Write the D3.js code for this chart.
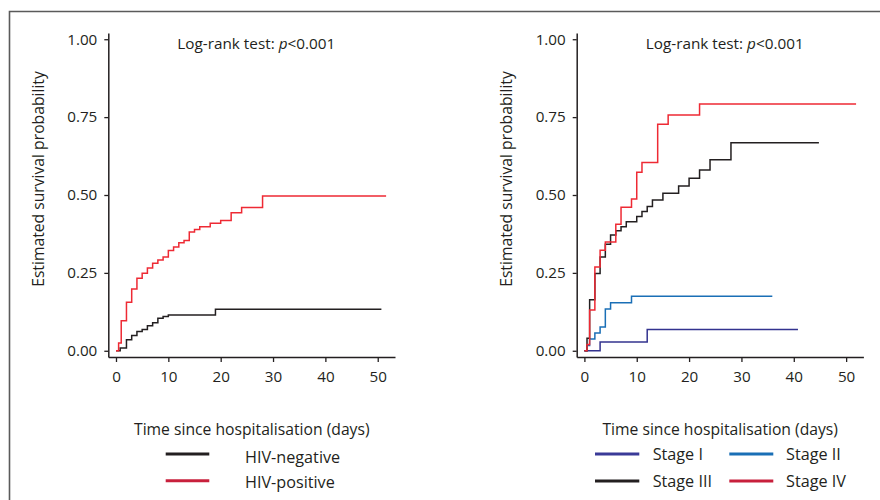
<!DOCTYPE html>
<html>
<head>
<meta charset="utf-8">
<script src="https://cdn.jsdelivr.net/npm/d3@7/dist/d3.min.js"></script>
<style>
  html, body { margin: 0; padding: 0; background: #fff; }
  svg { display: block; }
  text { font-family: "Open Sans", "Noto Sans", sans-serif; fill: #231f20; }
</style>
</head>
<body>
<svg id="chart" width="880" height="500"></svg>
<script>
// ---- Data ----
const yTicks = [0, 0.25, 0.5, 0.75, 1.0];
const xTicks = [0, 10, 20, 30, 40, 50];
const yTitle = "Estimated survival probability";
const xTitle = "Time since hospitalisation (days)";
const testLabel = "Log-rank test: ";
const testP = "p";
const testValue = "<0.001";

// Left panel: HIV status
const hivNegTime = [0, 0.8, 2, 3, 4, 5, 6, 7, 8, 9, 10, 19, 50.7];
const hivNegProb = [0, 0.009, 0.035, 0.049, 0.062, 0.068, 0.080, 0.090, 0.104, 0.110, 0.115, 0.133, 0.133];
const hivPosTime = [0, 0.5, 1, 2, 3, 4, 5, 6, 7, 8, 9, 10, 11, 12, 13, 14, 15, 16, 18, 20, 22, 24, 28, 51.6];
const hivPosProb = [0, 0.025, 0.096, 0.156, 0.198, 0.233, 0.249, 0.266, 0.281, 0.291, 0.301, 0.322, 0.333, 0.347, 0.354, 0.381, 0.389, 0.398, 0.409, 0.418, 0.443, 0.460, 0.497, 0.497];

// Right panel: stage
const stage1Time = [0, 3, 12, 40.8];
const stage1Prob = [0, 0.028, 0.068, 0.068];
const stage2Time = [0, 0.5, 1, 2, 3, 4, 5, 9, 35.9];
const stage2Prob = [0, 0.017, 0.038, 0.057, 0.076, 0.134, 0.154, 0.175, 0.175];
const stage3Time = [0, 0.5, 1, 2, 3, 4, 5, 6, 7, 8, 10, 11, 12, 13, 15, 18, 20, 22, 24, 28, 44.8];
const stage3Prob = [0, 0.040, 0.164, 0.248, 0.301, 0.342, 0.372, 0.385, 0.398, 0.414, 0.431, 0.447, 0.463, 0.484, 0.506, 0.529, 0.554, 0.580, 0.613, 0.668, 0.668];
const stage4Time = [0, 0.5, 1, 2, 3, 4, 6, 7, 9, 10, 11, 14, 16, 22, 51.9];
const stage4Prob = [0, 0.020, 0.131, 0.269, 0.323, 0.349, 0.406, 0.461, 0.487, 0.573, 0.604, 0.727, 0.757, 0.792, 0.792];

const leftNames = ["HIV-negative", "HIV-positive"];
const rightNames = ["Stage I", "Stage II", "Stage III", "Stage IV"];

// ---- Styles ----
const curveCol = { black: "#231f20", red: "#ee2a34", purple: "#33338f", blue: "#1a6fb6" };
const legendCol = { black: "#231f20", red: "#c8203c", purple: "#3a3a98", blue: "#1a6fb6" };

const svg = d3.select("#chart");

// frame
svg.append("path")
  .attr("d", "M9.5,500 V11.5 H880")
  .attr("fill", "none").attr("stroke", "#5a5a5a").attr("stroke-width", 1.6);

const zip = (t, p) => t.map((d, i) => ({ t: d, p: p[i] }));

function panel(ox, series, legendFn) {
  const x = d3.scaleLinear().domain([-1.47, 53.3]).range([ox, ox + 286.7]);
  const y = d3.scaleLinear().domain([-0.02, 1.02]).range([357, 33]);

  const gy = svg.append("g").attr("transform", `translate(${ox},0)`)
    .call(d3.axisLeft(y).tickValues(yTicks).tickFormat(d3.format(".2f")).tickSize(4).tickSizeOuter(0).tickPadding(7));
  const gx = svg.append("g").attr("transform", `translate(0,357)`)
    .call(d3.axisBottom(x).tickValues(xTicks).tickFormat(d3.format("d")).tickSize(5).tickSizeOuter(0).tickPadding(9));
  [gx, gy].forEach(g => {
    g.select(".domain").attr("stroke", "#231f20").attr("stroke-width", 1.5);
    g.selectAll(".tick line").attr("stroke", "#231f20").attr("stroke-width", 1.3);
    g.selectAll(".tick text").attr("font-size", 15.2).attr("fill", "#231f20")
      .style("font-family", '"Open Sans", sans-serif');
  });

  const line = d3.line().x(d => x(d.t)).y(d => y(d.p)).curve(d3.curveStepAfter);
  series.forEach(s => {
    svg.append("path").datum(zip(s.t, s.p))
      .attr("d", line).attr("fill", "none")
      .attr("stroke", s.c).attr("stroke-width", 1.5);
  });

  // log-rank label
  const tl = svg.append("text").attr("x", ox + 148).attr("y", 48.5)
    .attr("text-anchor", "middle").attr("font-size", 15.3);
  tl.append("tspan").text(testLabel);
  tl.append("tspan").attr("font-style", "italic").text(testP);
  tl.append("tspan").text(testValue);

  // y title
  svg.append("text")
    .attr("transform", `translate(${ox - 64.5},179) rotate(-90)`)
    .attr("text-anchor", "middle").attr("font-size", 15.7).text(yTitle);

  // x title
  svg.append("text").attr("x", ox + 143.5).attr("y", 434.5)
    .attr("text-anchor", "middle").attr("font-size", 15.7).text(xTitle);

  legendFn();
}

function legendItem(x1, x2, ly, col, label, lx, by) {
  svg.append("line").attr("x1", x1).attr("x2", x2).attr("y1", ly).attr("y2", ly)
    .attr("stroke", col).attr("stroke-width", 3);
  svg.append("text").attr("x", lx).attr("y", by).attr("font-size", 16.2).text(label);
}

panel(108.3, [
  { t: hivNegTime, p: hivNegProb, c: curveCol.black },
  { t: hivPosTime, p: hivPosProb, c: curveCol.red }
], () => {
  legendItem(165.7, 209.3, 454, legendCol.black, leftNames[0], 245, 462.5);
  legendItem(165.7, 209.3, 480.7, legendCol.red, leftNames[1], 245, 487.5);
});

panel(576.7, [
  { t: stage1Time, p: stage1Prob, c: curveCol.purple },
  { t: stage2Time, p: stage2Prob, c: curveCol.blue },
  { t: stage3Time, p: stage3Prob, c: curveCol.black },
  { t: stage4Time, p: stage4Prob, c: curveCol.red }
], () => {
  legendItem(595, 639.3, 454, legendCol.purple, rightNames[0], 652.7, 460);
  legendItem(729.3, 773.3, 454, legendCol.blue, rightNames[1], 786, 460);
  legendItem(595, 639.3, 481, legendCol.black, rightNames[2], 652.7, 487);
  legendItem(729.3, 773.3, 481, legendCol.red, rightNames[3], 786, 487);
});
</script>
</body>
</html>
